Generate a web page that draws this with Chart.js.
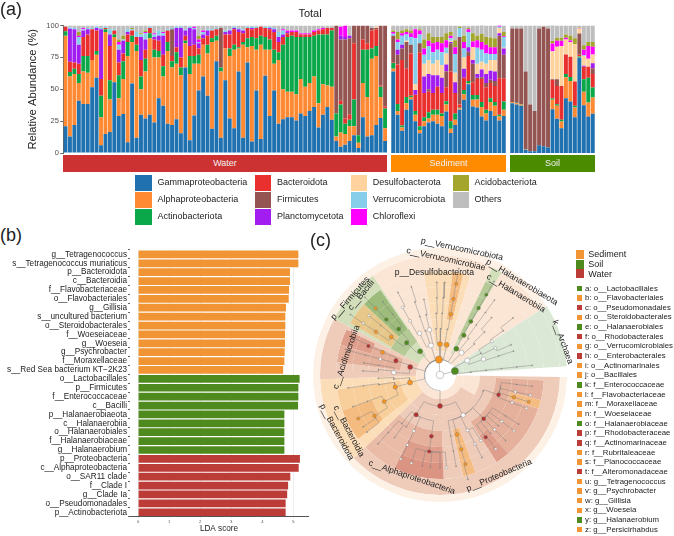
<!DOCTYPE html>
<html lang="en">
<head>
<meta charset="UTF-8">
<title>Total</title>
<script src="https://cdn.jsdelivr.net/npm/chart.js"></script>
<style>
  body { margin: 0; background: #fff; }
  #page { position: relative; width: 674px; height: 536px; overflow: hidden; font-family: "Liberation Sans", sans-serif; color: #222; }
  #page canvas { position: absolute; }
  .t { position: absolute; white-space: nowrap; line-height: 1; }
  .box { position: absolute; }
</style>
</head>
<body>
<div id="page"></div>
<script>
// (a) stacked bars, one value per sample: water, then sediment, then soil
const facetNames = ['Water', 'Sediment', 'Soil'];
const facetSizes = [73, 26, 19];
const taxa = ['Gammaproteobacteria', 'Alphaproteobacteria', 'Actinobacteriota', 'Bacteroidota', 'Firmicutes', 'Planctomycetota', 'Desulfobacterota', 'Verrucomicrobiota', 'Chloroflexi', 'Acidobacteriota', 'Others'];

const gamma = [21,13,22,41,38.5,38.5,51.5,59,6,15,16.5,55.5,29,30.5,8.5,54.5,12,30,27,30,24,43,37,23,22,26.5,15.5,67,10,29.5,49,60,45,19,72,12,57,27,19.5,64,12,71,9,49,11,60.5,29,49,23,26.5,28,28,25.5,31,29,33,36,20,30,36,26,9.5,5,6.5,9.5,14,4,28,13,14,22,27.5,9.5,
  64,30,17.5,34,42,25,15.5,21,24,25,23,21,32.5,15.6,22,34,41.7,54,36.5,35.7,28.6,25.5,33,29,25.5,29,
  39,38,37,2.6,1.3,1.3,6,5.2,4.4,34.4,26.8,19.5,43,40.4,28,75,37.5,28.6,30.7];
const alpha = [71,47,40,14,25.5,24.5,21.5,18,22,80,25.5,35.5,14,27.5,67.5,32.5,68,20,37,60,51,32,23,57,45,43.5,45.5,19,52,40.5,21,25,33,68,16,52,25,49,61.5,18,73,12,75,32,74,20.5,52,21,50,23.5,20,20,20.5,27,23,22,24,19,24,17,26,3.5,11,8.5,11.5,7,4,27,31,60,54,16.5,10,
  2,3,2.5,5,2,5,2.5,4,3,5,7,8,5.5,3.4,4,1,4.3,.5,5.2,6.3,7.4,5.5,7,8,3.1,5,
  .8,1,1,.2,0,0,0,0,0,7.3,10.2,5.2,16.4,16.1,7.7,.5,10.5,11,12.8];
const actino = [3.5,3.5,4,7,12,13,0,3,17,2,15,2,18,14,11,5,5,10,10,4,6,5,8,7,5,9,6,2,14,6,7,0,7,3,4,3,0,6,4,1,2,7,7,9,7,10,8,11,6,35,43,44,45,33,39,36,32,54,39,40,44,18,22,8,5,21,6,26,37,8,8,8,15.5,
  4.5,5.5,1.5,5,1,3,3,3,5,4,4,2,2.5,6,5,.5,3.5,2,3.8,3.5,4,3,3,3,1.4,6.4,
  .2,.5,.5,.2,0,0,0,0,0,1,1.3,1.3,2.6,3.1,1.3,.5,9.8,19.4,7.8];
const bacteroid = [3.5,8,5,8,15,17,24,16,13,1,27,3,10,6,6,4,6,13,7,4,8,8,9,9,4,4,8,4,8,9,5,5,7,6,5,0,11,11,12,12,7,8,6,8,7,7,8,14,8,6,3,3,4,2,2,2,3,3,4,5,2,0,3,4,4,44,0,8,5,14,13,1,1.5,
  .5,31,51.5,22,33,12.6,58,19,16,13,18,16,11,39,16,2.5,9.5,19.5,10,12.5,18,17.5,12,12.6,28.6,18.2,
  0,0,0,.2,0,0,0,0,0,14.6,14.3,26.6,15.3,15.9,19,1,9.9,8.7,10.7];
const firmicutes = [0,0,0,0,0,0,0,0,0,0,0,0,0,0,0,0,0,0,0,0,0,0,0,0,21,0,0,0,0,0,0,0,0,0,0,31,0,0,0,0,0,0,0,0,0,0,0,0,0,0,0,0,0,0,0,0,0,0,0,0,0,69,48,62,60,14,86,11,14,2,1,47,63.5,
  21,7.5,9,21,7,0,7,0,2,0,0,0,12.5,22,0,53,0,3.5,14.5,1,1.5,3.5,2.5,3.9,33.4,18.4,
  57.6,58.1,59.1,60.8,36.7,31.7,91.6,93.8,93.2,.5,5.2,0,0,0,0,16.8,0,0,4.4];
const plancto = [0,26,26,15,5,4,0,2,39,0,9,0,10,10,2,0,0,18,8,0,2,4,15,0,0,15,23,4,14,12,4,3,4,0,0,0,2,3,1,2,2,0,1,0,0,0,1,2,4,2,1,0,0,0,0,0,0,0,0,0,0,0,3,2,2,0,0,0,0,0,0,0,0,
  0,4,3,0,0,3.9,0,13,12,14,9,12,5.5,1,8.5,0,7,3.5,3,3,6,7,7,7.5,2,5,
  0,0,0,0,0,0,0,0,0,0,0,0,0,0,0,0,.8,0,3.9];
const desulfo = [0,0,0,0,0,0,0,0,0,0,0,0,0,0,0,0,0,0,0,0,0,0,0,0,0,0,0,0,0,0,0,0,0,0,0,0,0,0,0,0,0,0,0,0,0,0,0,0,0,0,0,0,0,0,0,0,0,0,0,0,0,0,0,0,0,0,0,0,0,0,1,0,0,
  0,0,0,1,0,4.5,0,10,11,9,12,10,8.5,1,7.5,0,9,0,10,8,6,8,8.5,9,4,.6,
  0,0,0,0,0,0,0,0,0,22,25.5,31.4,11.7,11.5,29.4,3.8,7.5,6.3,7];
const verruco = [0,1,1,6,1,1,1,1,1,1,4,1,4,1,2,1,4,2,5,1,2,4,2,1,1,1,1,1,1,1,1,2,1,1,1,0,1,1,1,1,1,1,1,1,0,1,1,1,4,3,0,0,0,0,0,0,0,0,0,0,0,0,0,0,0,0,0,0,0,0,0,0,0,
  1.5,6,7,5,6,36,7,7,11,9,8,10,4.5,2,14.6,7,7,12,0,12.5,9.5,8,4.6,4.6,1,8.4,
  0,0,0,0,0,0,0,0,0,0,0,0,0,0,0,0,.7,0,0];
const chloroflexi = [0,0,0,1,1,0,0,0,0,0,0,0,2,0,0,0,0,0,1,0,1,0,1,0,0,0,0,0,0,1,2,1,0,0,0,0,0,0,0,0,0,0,0,0,0,0,0,0,0,1,1,1,1,1,1,1,1,1,1,0,0,0,7,9,0,0,0,0,0,0,0,0,0,
  1.5,2,2,2,3,7,3,5,4,7,6,7,6,2,5.4,0,5,2,4.5,6,6,7,5.4,5.4,1,.6,
  0,0,0,0,0,0,0,0,0,6,4.7,4,1.3,1.3,0,.4,4.3,10,6];
const acido = [0,0,0,3,0,0,0,0,0,0,0,0,2,3,0,1,0,1,1,0,0,0,0,0,0,0,0,0,0,0,3,0,0,0,0,0,0,0,0,0,0,0,0,0,0,0,0,0,0,0,0,0,0,0,0,0,0,0,0,0,0,0,0,0,0,0,0,0,0,0,0,0,0,
  1,6,2,2,2,0,1,7,6,5,4,5,5.5,3,5.5,1,5,1,6.5,3.5,6.5,6,7.6,7,0,3.4,
  0,0,0,0,0,0,0,0,0,2,2.4,2.4,2.7,3.7,4.6,.5,3.6,3,3.7];
const others = [1,1.5,2,5,2,2,2,1,2,1,3,3,11,8,3,2,5,6,4,1,6,4,5,3,2,1,1,3,1,1,8,4,3,3,2,2,4,3,1,2,3,1,1,1,1,1,1,2,5,3,4,4,4,6,6,6,4,3,2,2,2,0,1,0,8,0,0,0,0,2,1,0,0,
  4,5,4,3,4,3,3,11,6,9,9,9,6,5,11.5,1,8,2,6,8,8,9,9.4,10,.5,5,
  2.4,2.4,2.4,36,62,67,2.4,1,2.4,12.7,9.6,9.6,7,8,10,1.5,15.4,13,13];
const taxaValues = [gamma, alpha, actino, bacteroid, firmicutes, plancto, desulfo, verruco, chloroflexi, acido, others];
const taxaColors = ['#2071B0', '#FF8A33', '#0BA84A', '#E9302F', '#945552', '#A21EF0', '#FFD29E', '#87CEEB', '#FF00FF', '#A3A52C', '#BEBEBE'];
const facetColors = ['#CC3232', '#FF8C00', '#4B8B00'];

// (b) LDA scores
const ldaNames = ['g__Tetragenococcus','s__Tetragenococcus muriaticus','p__Bacteroidota','c__Bacteroidia','f__Flavobacteriaceae','o__Flavobacteriales','g__Gillisia','s__uncultured bacterium','o__Steroidobacterales','f__Woeseiaceae','g__Woeseia','g__Psychrobacter','f__Moraxellaceae','s__Red Sea bacterium KT\u22122K23','o__Lactobacillales','p__Firmicutes','f__Enterococcaceae','c__Bacilli','p__Halanaerobiaeota','c__Halanaerobiia','o__Halanaerobiales','f__Halanaerobiaceae','g__Halanaerobium','p__Proteobacteria','c__Alphaproteobacteria','o__SAR11 clade','f__Clade I','g__Clade Ia','o__Pseudomonadales','p__Actinobacteriota'];
const ldaScores = [5.16,5.16,4.89,4.89,4.86,4.85,4.76,4.74,4.74,4.73,4.73,4.72,4.71,4.67,5.2,5.16,5.16,5.15,4.71,4.71,4.71,4.71,4.71,5.21,5.17,4.9,4.83,4.8,4.75,4.75];
const ldaGroups = ['Sediment','Sediment','Sediment','Sediment','Sediment','Sediment','Sediment','Sediment','Sediment','Sediment','Sediment','Sediment','Sediment','Sediment','Soil','Soil','Soil','Soil','Soil','Soil','Soil','Soil','Soil','Water','Water','Water','Water','Water','Water','Water'];
const groupColors = { Sediment: '#F19433', Soil: '#4F8A1F', Water: '#BC3C38' };

// (c) cladogram legend
const cladeLegend = ['Sediment', 'Soil', 'Water'];
const letterNames = ['a: o__Lactobacillales','b: o__Flavobacteriales','c: o__Pseudomonadales','d: o__Steroidobacterales','e: o__Halanaerobiales','f: o__Rhodobacterales','g: o__Verrucomicrobiales','h: o__Enterobacterales','i: o__Actinomarinales','j: o__Bacillales','k: f__Enterococcaceae','l: f__Flavobacteriaceae','m: f__Moraxellaceae','n: f__Woeseiaceae','o: f__Halanaerobiaceae','p: f__Rhodobacteraceae','q: f__Actinomarinaceae','r: f__Rubritaleaceae','s: f__Planococcaceae','t: f__Alteromonadaceae','u: g__Tetragenococcus','v: g__Psychrobacter','w: g__Gillisia','x: g__Woeseia','y: g__Halanaerobium','z: g__Persicirhabdus'];
const letterGroups = ['Soil','Sediment','Water','Sediment','Soil','Water','Sediment','Water','Sediment','Sediment','Soil','Sediment','Sediment','Sediment','Soil','Water','Water','Sediment','Sediment','Water','Sediment','Sediment','Sediment','Sediment','Soil','Sediment'];
const cladeLabels = ['p__Verrucomicrobiota','c__Verrucomicrobiae','p__Desulfobacterota','p__Halanaerobiaeota','c__Halanaerobiia','p__Firmicutes','c__Bacilli','c__Acidimicrobiia','k__Archaea','p__Bacteroidota','c__Bacteroidia','c__Alphaproteobacteria','p__Proteobacteria'];

// shaded rings, outermost first: each slice is [end bearing in degrees, shade]
const cladeRings = [
  [[57,'o'],[86,'a'],[91,'w'],[360,'o']],
  [[26,'k'],[31,'g'],[57,'k'],[86,'a'],[91,'w'],[226,'p'],[268,'y'],[298,'p'],[326,'g'],[360,'k']],
  [[7,'y'],[13,'Y'],[17,'y'],[26,'k'],[31,'G'],[57,'k'],[86,'a'],[91,'w'],[93,'p'],[104,'m'],[109,'Y'],[139,'m'],[147,'M'],[160,'p'],[167,'Y'],[178,'p'],[206,'D'],[226,'n'],[232,'y'],[250,'Y'],[262,'x'],[268,'y'],[277,'p'],[287,'m'],[296,'M'],[298,'p'],[300,'g'],[313,'b'],[325,'H'],[326,'g'],[351,'k'],[360,'y']],
  [[7,'y'],[13,'Y'],[17,'y'],[26,'k'],[31,'G'],[57,'k'],[86,'a'],[91,'w'],[93,'p'],[104,'m'],[109,'Y'],[139,'m'],[147,'M'],[160,'p'],[167,'Y'],[178,'p'],[206,'M'],[226,'n'],[232,'y'],[250,'Y'],[262,'x'],[268,'y'],[277,'p'],[287,'m'],[296,'M'],[298,'p'],[300,'g'],[313,'b'],[325,'H'],[326,'g'],[351,'k'],[360,'y']],
  [[7,'y'],[13,'Y'],[17,'y'],[26,'k'],[31,'G'],[57,'k'],[86,'a'],[91,'w'],[93,'p'],[147,'m'],[160,'p'],[167,'Y'],[178,'p'],[206,'m'],[226,'n'],[232,'y'],[262,'x'],[268,'y'],[277,'p'],[294,'m'],[298,'p'],[300,'g'],[313,'b'],[325,'H'],[326,'g'],[351,'k'],[360,'y']],
  [[17,'y'],[26,'k'],[31,'G'],[57,'k'],[86,'a'],[91,'w'],[226,'p'],[232,'y'],[262,'x'],[268,'y'],[277,'p'],[294,'m'],[298,'p'],[326,'G'],[351,'k'],[360,'y']],
  [[17,'y'],[26,'k'],[31,'g'],[57,'k'],[86,'a'],[91,'w'],[120,'k'],[226,'p'],[268,'y'],[298,'p'],[326,'g'],[351,'k'],[360,'y']],
  [[57,'k'],[86,'a'],[91,'w'],[360,'k']]
];
const ringWeights = [7, 16, 16, 16, 16, 16, 16, 8];
const shades = { o:'#FDF0E5', k:'#FBE5D4', a:'#DCE8D6', w:'rgba(0,0,0,0)', g:'#D3DEBB', G:'#B4C996', H:'#9DBB7A', b:'#E8C88A', p:'#EFCBBA', m:'#E6B19C', M:'#DE9E8B', n:'#EABBA7', D:'#DB9382', y:'#FBDDB8', x:'#F8CE9B', Y:'#F5BC82' };

// tree nodes: [id, parent, level, bearing in degrees, group]; n = no group, t = small tip
const cladeNodes = [
  ['root',null,0,0,'n'],['Bac','root',1,356,'S'],['Arc','root',1,75,'O'],
  // Proteobacteria
  ['Pro','Bac',2,180,'W'],['Alp','Pro',3,211,'W'],['Rho','Alp',4,188,'W'],['RhoF','Rho',5,188,'W'],
  ['t1','RhoF',6,176,'n'],['t2','RhoF',6,180,'t'],['t3','RhoF',6,186,'t'],['t4','RhoF',6,191,'t'],['t5','RhoF',6,198,'n'],
  ['A2','Alp',4,205,'n'],['A2f','A2',5,205,'n'],['A2g','A2f',6,205,'n'],
  ['A3','Alp',4,213,'t'],['A3f','A3',5,216,'t'],['A4','Alp',4,218,'t'],['A4f','A4',5,222,'t'],['A4g','A4f',6,222,'t'],
  ['Gam','Pro',3,150,'n'],['G1','Gam',4,135,'W'],['G1a','G1',5,143.7,'W'],['G1ag','G1a',6,143,'n'],
  ['G1b','G1',5,135,'n'],['G1bg','G1b',6,135,'t'],['G1c','G1',5,127,'n'],['G1cg','G1c',6,127,'n'],['G1d','G1',5,139,'t'],['G1e','G1',5,131,'t'],['G1f','G1',5,122,'t'],['G1fg','G1f',6,122,'t'],
  ['G2','Gam',4,153.6,'n'],['G2a','G2',5,153,'n'],['G2b','G2',5,148,'n'],['G2ag','G2a',6,153,'t'],
  ['G3','Gam',4,164,'S'],['G3a','G3',5,164,'S'],['G3g','G3a',6,164,'S'],['G3s','G3g',7,165,'t'],
  ['G4','Gam',4,170,'t'],['G4a','G4',5,170,'t'],['G4g','G4a',6,170,'t'],
  ['G5','Gam',4,108.7,'W'],['G5a','G5',5,106.8,'S'],['G5ag','G5a',6,106.8,'S'],['G5b','G5',5,111,'n'],['G5bg','G5b',6,111,'n'],['G5c','G5',5,102.6,'n'],['G5cg','G5c',6,102.6,'n'],['G5d','G5',5,97,'t'],['G5dg','G5d',6,97,'t'],
  // Bacteroidota
  ['Bct','Bac',2,256,'S'],['Bia','Bct',3,255,'S'],['Fla','Bia',4,244.5,'S'],['FlaF','Fla',5,238,'S'],['b1','FlaF',6,242,'S'],['b2','FlaF',6,236,'t'],['b3','FlaF',6,232,'t'],
  ['b4','Fla',5,250,'t'],['b5','b4',6,250,'t'],['b6','Bia',4,261,'t'],['b7','b6',5,262,'t'],['b8','b7',6,262,'t'],['b9','Bct',3,265,'t'],['b10','b9',4,267,'t'],
  // Actinobacteriota
  ['Act','Bac',2,285,'W'],['Aci','Act',3,288,'W'],['Ac1','Aci',4,291.5,'S'],['Ac1f','Ac1',5,292,'W'],['Ac1g','Ac1f',6,293,'t'],
  ['Ac2','Aci',4,285,'n'],['Ac2f','Ac2',5,285,'t'],['Ac2g','Ac2f',6,285,'t'],['Ac3','Act',3,273,'n'],['Ac3o','Ac3',4,275,'t'],['Ac3f','Ac3o',5,273,'t'],['Ac4','Ac3',4,279,'t'],['Ac4f','Ac4',5,279,'t'],
  // Firmicutes
  ['Fir','Bac',2,320,'O'],['Bcl','Fir',3,314,'O'],['Lac','Bcl',4,318,'O'],['Ent','Lac',5,316,'O'],['Tet','Ent',6,316,'S'],['Tets','Tet',7,316,'t'],['Lac2','Lac',5,322,'t'],['Lac3','Lac2',6,322,'t'],
  ['Bll','Bcl',4,308,'S'],['Pla','Bll',5,304,'S'],['Plag','Pla',6,304,'n'],['Plas','Plag',7,304,'t'],['Bl2','Bll',5,310,'t'],['Bl3','Bl2',6,310,'n'],
  // unlabelled top fan
  ['U','Bac',2,343,'n'],['U1','U',3,334,'n'],['U1o','U1',4,331,'n'],['U1f','U1o',5,331,'n'],['U1g','U1f',6,333,'t'],
  ['U2','U',3,342,'t'],['U2o','U2',4,341,'t'],['U2f','U2o',5,341,'t'],['U2g','U2f',6,342,'t'],['U3','U',3,347,'n'],['U3o','U3',4,347,'t'],['U3f','U3o',5,348,'t'],
  // Desulfobacterota and Verrucomicrobiota
  ['Des','Bac',2,0,'S'],['D1','Des',3,355,'t'],['D1o','D1',4,356.5,'t'],['D1f','D1o',5,357.6,'t'],['D1g','D1f',6,358,'t'],
  ['D2','Des',3,1,'t'],['D2o','D2',4,2,'t'],['D2f','D2o',5,2.4,'t'],['D2g','D2f',6,3,'t'],
  ['Ver','Bac',2,12.5,'S'],['Vc','Ver',3,9,'t'],['Vo','Vc',4,10,'S'],['Vf','Vo',5,10,'S'],['Vg','Vf',6,10,'S'],['Vs','Vg',7,10,'t'],
  // Halanaerobiaeota
  ['Hal','Bac',2,32,'O'],['Hc','Hal',3,31,'O'],['Ho','Hc',4,30,'O'],['Hf','Ho',5,30,'O'],['Hg','Hf',6,30,'O'],['Hs','Hg',7,30,'t'],
  // fan next to Archaea
  ['N','Bac',2,44,'n'],['N1','N',3,48,'t'],['N1o','N1',4,46,'t'],['N1f','N1o',5,42,'t'],['N2','N',3,38,'t'],['N2o','N2',4,36,'t'],['N2f','N2o',5,36,'t'],['N2g','N2f',6,36,'t'],
  // Archaea
  ['a2','Arc',2,85,'t'],['a3','a2',3,84,'t'],['a4','a3',4,84,'t'],['a5','a4',5,84,'t'],['a6','a5',6,84,'t'],
  ['b2a','Arc',2,62,'n'],['b3a','b2a',3,70,'n'],['b4a','b3a',4,72,'t'],['b5a','b4a',5,72,'t'],['c3a','b2a',3,62,'t'],['c4a','c3a',4,64,'n'],['c5a','c4a',5,67,'t'],['d4a','c3a',4,57,'n'],['d5a','d4a',5,55,'t'],['d6a','d5a',6,52,'t']
];

// ---------------- layout helpers ----------------
const page = document.getElementById('page');
Chart.defaults.font.family = '"Liberation Sans", sans-serif';
Chart.defaults.animation = false;
Chart.defaults.responsive = false;
Chart.defaults.plugins.legend.display = false;
Chart.defaults.plugins.tooltip.enabled = false;

function addCanvas(left, top, w, h) {
  const c = document.createElement('canvas');
  c.width = w; c.height = h;
  c.style.left = left + 'px'; c.style.top = top + 'px';
  c.style.width = w + 'px'; c.style.height = h + 'px';
  page.appendChild(c);
  return c;
}
function addText(text, left, top, size, color, extra) {
  const s = document.createElement('span');
  s.className = 't';
  s.textContent = text;
  s.style.left = left + 'px'; s.style.top = top + 'px';
  s.style.fontSize = size + 'px';
  if (color) s.style.color = color;
  if (extra) s.style.transform = extra;
  page.appendChild(s);
}
function addBox(left, top, w, h, color) {
  const b = document.createElement('div');
  b.className = 'box';
  b.style.cssText = `left:${left}px;top:${top}px;width:${w}px;height:${h}px;background:${color}`;
  page.appendChild(b);
}

// ---------------- (a) ----------------
const facetBoxes = [[0, 388, 63.3], [391, 115, 0], [510, 85, 0]];
let offset = 0;
facetSizes.forEach((n, f) => {
  const [left, w, axisW] = facetBoxes[f];
  const idx = offset;
  offset += n;
  new Chart(addCanvas(left, 15, w, 145), {
    type: 'bar',
    data: {
      labels: gamma.slice(idx, idx + n).map((_, i) => facetNames[f] + ' ' + (i + 1)),
      datasets: taxaValues.map((vals, s) => ({
        label: taxa[s], data: vals.slice(idx, idx + n),
        backgroundColor: taxaColors[s], barPercentage: 0.88, categoryPercentage: 1
      }))
    },
    options: {
      layout: { padding: { top: 10.5, bottom: 7, right: f === 0 ? 0.7 : 0 } },
      scales: {
        x: { stacked: true, display: false },
        y: {
          stacked: true, min: 0, max: 100, display: f === 0,
          afterFit: s => { s.width = axisW; },
          grid: { drawOnChartArea: false, tickLength: 3, color: '#666' },
          border: { color: '#666' },
          ticks: { stepSize: 25, padding: 1.5, color: '#4d4d4d', font: { size: 7.5 } },
          title: { display: true, text: 'Relative Abundance (%)', color: '#222', font: { size: 11.2 }, padding: { top: 26, bottom: 0 } }
        }
      }
    }
  });
});

addText('(a)', 0, 0, 18);
addText('Total', 310, 8, 11, '#222', 'translateX(-50%)');
const stripBoxes = [[63, 324], [391, 115], [510, 85]];
facetNames.forEach((name, f) => {
  addBox(stripBoxes[f][0], 154.5, stripBoxes[f][1], 17, facetColors[f]);
  addText(name, stripBoxes[f][0] + stripBoxes[f][1] / 2, 158.5, 9, '#f1f1f1', 'translateX(-50%)');
});
const legendCols = [[135, 157.6], [254.7, 277], [350.5, 372.7], [452.8, 474.6]];
const legendSlots = [[0,0],[0,1],[0,2],[1,0],[1,1],[1,2],[2,0],[2,1],[2,2],[3,0],[3,1]];
taxa.forEach((name, i) => {
  const [col, row] = legendSlots[i];
  addBox(legendCols[col][0], 175 + row * 17, 16.5, 15.7, taxaColors[i]);
  addText(name, legendCols[col][1], 178.3 + row * 17, 9);
});

// ---------------- (b) ----------------
addText('(b)', 0, 226, 18);
new Chart(addCanvas(0, 244, 315, 292), {
  type: 'bar',
  data: {
    labels: ldaNames,
    datasets: [{ data: ldaScores, backgroundColor: ldaGroups.map(g => groupColors[g]), barPercentage: 0.87, categoryPercentage: 1 }]
  },
  options: {
    indexAxis: 'y',
    layout: { padding: { top: 4.4, right: 7 } },
    scales: {
      x: {
        min: -0.26, max: 5.47,
        afterFit: s => { s.height = 19.3; },
        grid: { color: '#eeeeee', tickLength: 2 },
        border: { color: '#555' },
        ticks: { stepSize: 1, includeBounds: false, padding: 1, color: '#555', font: { size: 4.2 } },
        title: { display: true, text: 'LDA score', color: '#222', font: { size: 8.2 }, padding: { top: 0, bottom: 2.5 } }
      },
      y: {
        afterFit: s => { s.width = 130; },
        grid: { display: true, drawOnChartArea: false, tickLength: 2, color: '#666' },
        border: { display: false },
        ticks: { autoSkip: false, padding: 1, color: '#222', font: { size: 8.2 } }
      }
    }
  }
});

// ---------------- (c) ----------------
addText('(c)', 310, 231, 18);
const cladeSize = 254, cladeLeft = 313, cladeTop = 248;

new Chart(addCanvas(cladeLeft, cladeTop, cladeSize, cladeSize), {
  type: 'doughnut',
  data: {
    datasets: cladeRings.map((ring, i) => ({
      data: ring.map((s, j) => s[0] - (j ? ring[j - 1][0] : 0)),
      backgroundColor: ring.map(s => shades[s[1]]),
      borderWidth: 0,
      weight: ringWeights[i]
    }))
  },
  options: { cutout: 16, rotation: 0, layout: { padding: 0 }, events: [] }
});

const levelRadius = 16;
const polar = (level, bearing) => {
  const a = bearing * Math.PI / 180, r = level * levelRadius;
  return { x: r * Math.sin(a), y: r * Math.cos(a) };
};
const nodeById = {};
cladeNodes.forEach(n => { nodeById[n[0]] = n; });

// each branch: out along the child's bearing, then round an arc to its parent
const branchPoints = [];
cladeNodes.forEach(([id, parent, level, bearing]) => {
  if (!parent) return;
  const p = nodeById[parent];
  branchPoints.push(polar(level, bearing), polar(p[2], bearing));
  let diff = ((p[3] - bearing + 540) % 360) - 180;
  const steps = Math.ceil(Math.abs(diff) / 3);
  for (let k = 1; k <= steps; k++) branchPoints.push(polar(p[2], bearing + diff * k / steps));
  branchPoints.push({ x: NaN, y: NaN });
});

const nodeFill = { S: '#F7941D', O: '#4F8A1F', W: '#B5302E', n: '#ffffff', t: '#8a8a8a' };
const levelDot = [3.8, 3.6, 2.5, 2.2, 2, 1.8, 1.6, 1];
const nodeRadius = n => n[4] === 't' ? 0.6 : n[4] === 'n' && n[2] > 3 ? levelDot[n[2]] * 0.75 : levelDot[n[2]];

new Chart(addCanvas(cladeLeft, cladeTop, cladeSize, cladeSize), {
  type: 'scatter',
  data: {
    datasets: [
      { data: cladeNodes.map(n => polar(n[2], n[3])), pointRadius: cladeNodes.map(nodeRadius), backgroundColor: cladeNodes.map(n => nodeFill[n[4]]), borderColor: cladeNodes.map(n => n[4] === 't' ? '#8a8a8a' : '#777'), borderWidth: 0.4, order: 0 },
      { data: branchPoints, showLine: true, spanGaps: false, pointRadius: 0, borderColor: '#808080', borderWidth: 0.45, order: 1 }
    ]
  },
  options: {
    layout: { padding: 0 },
    events: [],
    scales: {
      x: { display: false, min: -cladeSize / 2, max: cladeSize / 2 },
      y: { display: false, min: -cladeSize / 2, max: cladeSize / 2 }
    }
  }
});

const cladeLabelPlace = [[462.3,249,12],[445.7,259,12.6],[434.3,272.3,0],[522,282.3,31],[516,293,31],[349.7,298.3,-49],[360.7,295,-50],[345.8,356.7,-71],[563,342,70],[337.3,432.3,61.5],[348.7,430.7,62],[412,476.7,18.6],[498.7,475,-23.5]];
cladeLabels.forEach((name, i) => {
  const [x, y, deg] = cladeLabelPlace[i];
  addText(name, x, y, 8.6, '#222', `translate(-50%,-50%) rotate(${deg}deg)`);
});

cladeLegend.forEach((name, i) => {
  addBox(575.7, 250 + i * 9.7, 8.6, 9.1, groupColors[name]);
  addText(name, 588.3, 250.3 + i * 9.7, 9);
});
letterNames.forEach((name, i) => {
  addBox(576.7, 285.6 + i * 9.65, 5.5, 5.5, groupColors[letterGroups[i]]);
  addText(name, 585, 284.5 + i * 9.65, 7.8);
});
</script>
</body>
</html>
